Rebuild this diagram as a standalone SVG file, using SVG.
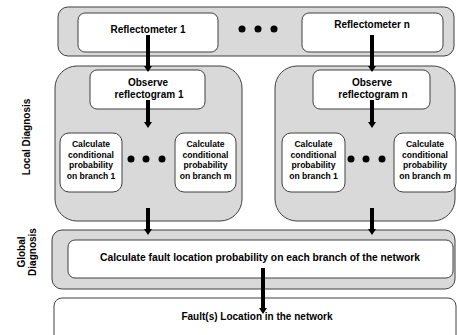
<svg xmlns="http://www.w3.org/2000/svg" width="457" height="335" viewBox="0 0 457 335">
<defs>
<style>
.grp{fill:#d9d9d9;stroke:#404040;stroke-width:1}
.box{fill:#ffffff;stroke:#404040;stroke-width:1}
text{font-family:"Liberation Sans",Arial,sans-serif;font-size:10px;font-weight:bold;fill:#000;text-anchor:middle}
.sm{font-size:8.6px}
.dot{fill:#000}
.arr{stroke:#000;stroke-width:4;fill:none;marker-end:url(#ah)}
</style>
<marker id="ah" markerUnits="userSpaceOnUse" markerWidth="8" markerHeight="8" refX="0" refY="4" orient="auto">
<path d="M0,0 L6,4 L0,8 z" fill="#000"/>
</marker>
</defs>
<rect width="457" height="335" fill="#ffffff"/>
<text transform="translate(30,137) rotate(-90)">Local Diagnosis</text>
<text transform="translate(25,252) rotate(-90)">Global</text>
<text transform="translate(36,252) rotate(-90)">Diagnosis</text>
<g id="reflectometers">
<rect class="grp" x="58" y="7" width="396" height="49" rx="10"/>
</g>
<g id="reflectometer1">
<rect class="box" x="78" y="13" width="140" height="39" rx="7"/>
<text x="148" y="33">Reflectometer 1</text>
</g>
<g id="reflectometern">
<rect class="box" x="302" y="13" width="141" height="39" rx="7"/>
<text x="372" y="28">Reflectometer n</text>
</g>
<g id="dots-top"><circle class="dot" cx="242" cy="29" r="3.5"/><circle class="dot" cx="258" cy="29" r="3.5"/><circle class="dot" cx="274" cy="29" r="3.5"/></g>
<g id="local1">
<rect class="grp" x="55" y="66" width="187" height="155" rx="22"/>
</g>
<g id="localn">
<rect class="grp" x="275" y="66" width="180" height="155" rx="22"/>
</g>
<g id="observe1">
<rect class="box" x="90" y="70" width="115" height="39" rx="7"/>
<text x="148" y="86">Observe</text><text x="149" y="98">reflectogram 1</text>
</g>
<g id="observen">
<rect class="box" x="313" y="70" width="117" height="39" rx="7"/>
<text x="372" y="86">Observe</text><text x="373" y="98">reflectogram n</text>
</g>
<g id="calc1-1">
<rect class="box" x="60" y="133" width="62" height="59" rx="9"/>
<text class="sm" x="91" y="147">Calculate</text><text class="sm" x="91" y="157.5">conditional</text><text class="sm" x="91" y="168">probability</text><text class="sm" x="91" y="178.5">on branch 1</text>
</g>
<g id="calc1-m">
<rect class="box" x="175" y="133" width="61" height="59" rx="9"/>
<text class="sm" x="205.5" y="147">Calculate</text><text class="sm" x="205.5" y="157.5">conditional</text><text class="sm" x="205.5" y="168">probability</text><text class="sm" x="205.5" y="178.5">on branch m</text>
</g>
<g id="dots-left"><circle class="dot" cx="131" cy="159" r="3.5"/><circle class="dot" cx="146" cy="159" r="3.5"/><circle class="dot" cx="162" cy="159" r="3.5"/></g>
<g id="calcn-1">
<rect class="box" x="282" y="133" width="63" height="59" rx="9"/>
<text class="sm" x="313.5" y="147">Calculate</text><text class="sm" x="313.5" y="157.5">conditional</text><text class="sm" x="313.5" y="168">probability</text><text class="sm" x="313.5" y="178.5">on branch 1</text>
</g>
<g id="calcn-m">
<rect class="box" x="394" y="133" width="62" height="59" rx="9"/>
<text class="sm" x="425" y="147">Calculate</text><text class="sm" x="425" y="157.5">conditional</text><text class="sm" x="425" y="168">probability</text><text class="sm" x="425" y="178.5">on branch m</text>
</g>
<g id="dots-right"><circle class="dot" cx="351" cy="159" r="3.5"/><circle class="dot" cx="366" cy="159" r="3.5"/><circle class="dot" cx="382" cy="159" r="3.5"/></g>
<g id="global">
<rect class="grp" x="52" y="230" width="403" height="59" rx="10"/>
</g>
<g id="globalcalc">
<rect class="box" x="68" y="240" width="385" height="38" rx="7"/>
<text x="260" y="260.5" textLength="320" lengthAdjust="spacingAndGlyphs">Calculate fault location probability on each branch of the network</text>
</g>
<g id="fault">
<rect class="box" x="54" y="298" width="402" height="50" rx="8"/>
<text x="257" y="319.5">Fault(s) Location in the network</text>
</g>
<g id="connectors">
<line class="arr" x1="148" y1="35" x2="148" y2="66"/>
<line class="arr" x1="372" y1="35" x2="372" y2="66"/>
<line class="arr" x1="148" y1="100" x2="148" y2="122"/>
<line class="arr" x1="372" y1="100" x2="372" y2="122"/>
<line class="arr" x1="148" y1="208" x2="148" y2="229"/>
<line class="arr" x1="372" y1="208" x2="372" y2="229"/>
<line class="arr" x1="263" y1="268" x2="263" y2="308"/>
</g>
</svg>
